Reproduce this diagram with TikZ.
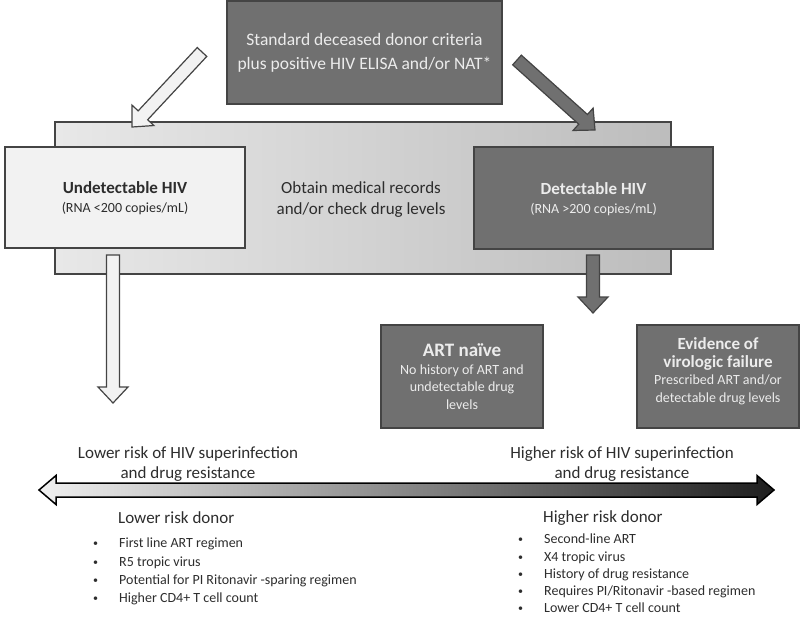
\documentclass[tikz,border=0pt]{standalone}
\usepackage{fontspec}
\setmainfont{Carlito}
\usetikzlibrary{calc}
\definecolor{boxdark}{RGB}{112,112,112}
\definecolor{boxlight}{RGB}{242,242,242}
\definecolor{edgegray}{RGB}{68,68,68}
\definecolor{txtgray}{RGB}{45,45,45}
\definecolor{txtlight}{RGB}{236,236,236}
\newcommand{\hdr}[2][17]{{\fontsize{#1}{19}\selectfont\bfseries #2}}
\newcommand{\itm}{\makebox[26pt][l]{\raisebox{1pt}{\fontsize{10}{10}\selectfont\textbullet}}}
\newcommand{\blockarrow}[3][]{%
  \path[#1] let \p1=(#2), \p2=(#3),
    \n1={veclen(\x2-\x1,\y2-\y1)}, \n2={(\x2-\x1)/\n1}, \n3={(\y2-\y1)/\n1},
    \p3=({\x2-16*\n2},{\y2-16*\n3})
  in ({\x1-6.5*\n3},{\y1+6.5*\n2}) -- ({\x3-6.5*\n3},{\y3+6.5*\n2})
  -- ({\x3-15*\n3},{\y3+15*\n2}) -- (\p2) -- ({\x3+15*\n3},{\y3-15*\n2})
  -- ({\x3+6.5*\n3},{\y3-6.5*\n2}) -- ({\x1+6.5*\n3},{\y1-6.5*\n2}) -- cycle;}

\begin{document}
\begin{tikzpicture}[x=1pt,y=-1pt]
    \tikzstyle{darkbox}=[draw=edgegray,line width=1.2pt,fill=boxdark,text=txtlight,align=center,inner sep=0pt];
    \tikzstyle{lightbox}=[draw=edgegray,line width=1.2pt,fill=boxlight,text=txtgray,align=center,inner sep=0pt];
    \tikzstyle{whitearrow}=[draw=edgegray,line width=1.2pt,fill=boxlight];
    \tikzstyle{grayarrow}=[draw=edgegray,line width=1.2pt,fill=boxdark];
    \tikzstyle{note}=[text=txtgray,align=center,inner sep=0pt];
    \tikzstyle{listtext}=[text=txtgray,align=left,inner sep=0pt,font=\fontsize{14}{18.3}\selectfont];

    \useasboundingbox (0,0) rectangle (800,616);

    \node (panel) [draw=edgegray,line width=1.2pt,left color=black!9,right color=black!26,
    minimum width=616pt,minimum height=152pt] at (363,198) {};
    \node (criteria) [darkbox,minimum width=275pt,minimum height=103pt,
    font=\fontsize{17.5}{24}\selectfont] at (364.5,52.5) {Standard deceased donor criteria\\plus positive HIV ELISA and/or NAT*};
    \node (records) [note,font=\fontsize{17}{21}\selectfont] at (361,200)
    {Obtain medical records\\and/or check drug levels};
    \node (undet) [lightbox,minimum width=240pt,minimum height=101pt,text depth=0pt,
    font=\fontsize{14}{19}\selectfont] at (125,197.5) {\hdr{Undetectable HIV}\\(RNA <200 copies/mL)};
    \node (det) [darkbox,minimum width=239pt,minimum height=102pt,text depth=0pt,
    font=\fontsize{14}{19}\selectfont] at (593.5,198) {\hdr{Detectable HIV}\\(RNA >200 copies/mL)};
    \node (naive) [darkbox,minimum width=162pt,minimum height=103pt,
    font=\fontsize{14}{17.5}\selectfont] at (462,376.5) {\hdr[19]{ART naïve}\\No history of ART and\\undetectable drug\\levels};
    \node (failure) [darkbox,minimum width=162pt,minimum height=103pt,text depth=13pt,
    font=\fontsize{14}{17.5}\selectfont] at (718,376.5) {\hdr{Evidence of}\\\hdr{virologic failure}\\Prescribed ART and/or\\detectable drug levels};

    \coordinate (w1) at (202,52); \coordinate (w2) at (132,127);
    \coordinate (g1) at (517,60); \coordinate (g2) at (595,130);
    \coordinate (w3) at (113,255); \coordinate (w4) at (113,403);
    \coordinate (g3) at (593,255); \coordinate (g4) at (593,313);
    \blockarrow[whitearrow]{w1}{w2}
    \blockarrow[grayarrow]{g1}{g2}
    \blockarrow[whitearrow]{w3}{w4}
    \blockarrow[grayarrow]{g3}{g4}

    \coordinate (lowend) at (39,490); \coordinate (highend) at (774,490);
    \path[draw=black,line width=1.5pt,left color=black!6,right color=black!88]
    (lowend) -- ++(17,-14.5) -- ++(0,7.5) -- ($(highend)+(-17,-7)$) -- ++(0,-7.5)
    -- (highend) -- ++(-17,14.5) -- ++(0,-7.5) -- ($(lowend)+(17,7)$) -- ++(0,7.5) -- cycle;

    \node (lowrisk) [note,font=\fontsize{17}{20}\selectfont] at (188,464)
    {Lower risk of HIV superinfection\\and drug resistance};
    \node (highrisk) [note,font=\fontsize{17}{20}\selectfont] at (622,464)
    {Higher risk of HIV superinfection\\and drug resistance};

    \node (lowdonor) [note,anchor=west,font=\fontsize{17}{20}\selectfont] at (118,518) {Lower risk donor};
    \node (highdonor) [note,anchor=west,font=\fontsize{17}{20}\selectfont] at (543,518) {Higher risk donor};

    \node (lowlist) [listtext,anchor=north west] at (93,538) {\itm First line ART regimen\\\itm R5 tropic virus\\
    \itm Potential for PI Ritonavir -sparing regimen\\\itm Higher CD4+ T cell count};
    \node (highlist) [listtext,anchor=north west,font=\fontsize{14}{17.1}\selectfont] at (518,534)
    {\itm Second-line ART\\\itm X4 tropic virus\\\itm History of drug resistance\\
    \itm Requires PI/Ritonavir -based regimen\\\itm Lower CD4+ T cell count};
\end{tikzpicture}
\end{document}
